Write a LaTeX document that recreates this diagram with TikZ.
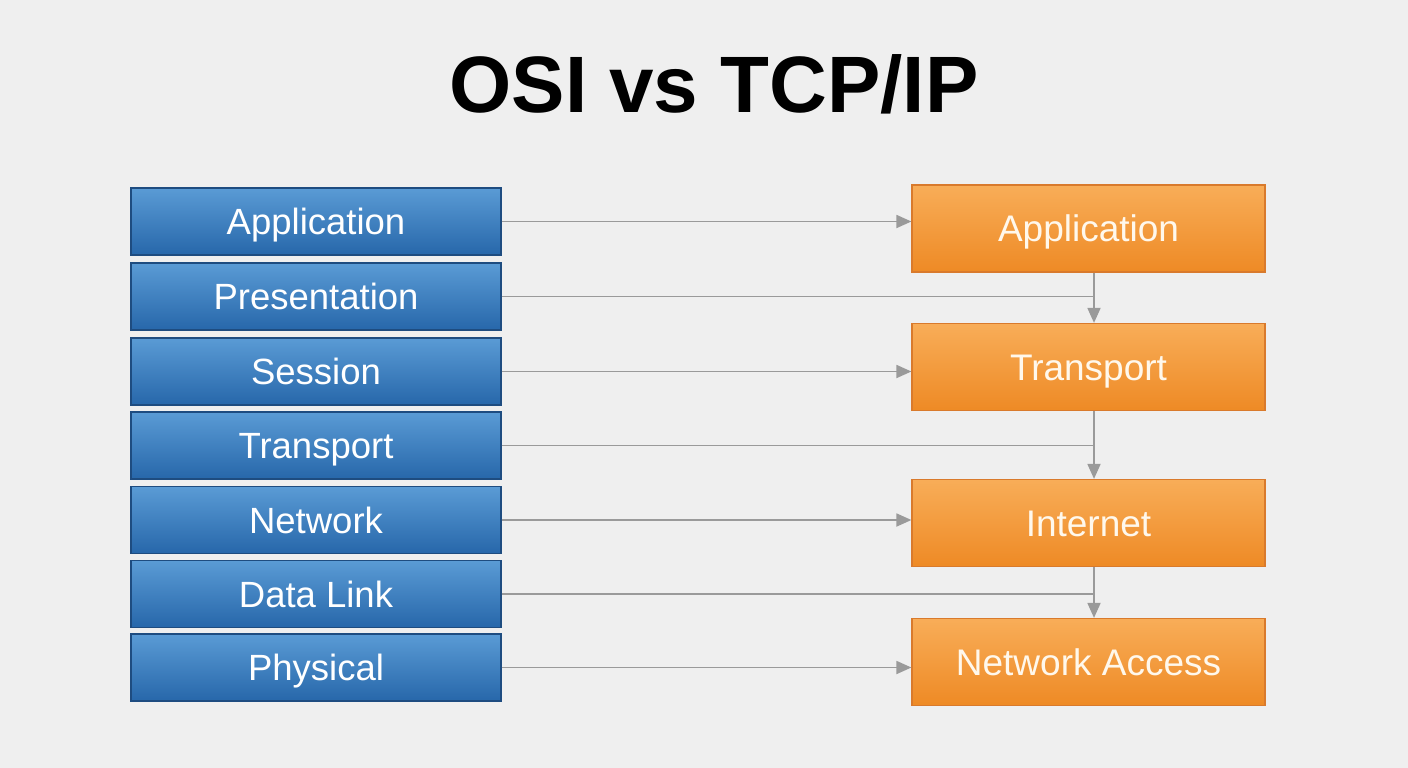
\documentclass[tikz,border=0pt]{standalone}
\usepackage{fontspec}
\setmainfont{Liberation Sans}
\usetikzlibrary{arrows.meta,calc}
\definecolor{bgc}{HTML}{EFEFEF}
\definecolor{bluetop}{HTML}{5A9BD5}
\definecolor{bluebot}{HTML}{2767AA}
\definecolor{blueedge}{HTML}{1E4C80}
\definecolor{orgtop}{HTML}{F8AD58}
\definecolor{orgbot}{HTML}{EE8A25}
\definecolor{orgedge}{HTML}{D97A2C}
\definecolor{arrowc}{HTML}{9A9A9A}
\definecolor{orgtext}{HTML}{FFF8EC}
\tikzset{
  osibox/.style={draw=blueedge, line width=1.2pt, top color=bluetop, bottom color=bluebot,
    minimum width=370pt, minimum height=67pt, inner sep=0pt, text=white,
    text height=26pt, text depth=0pt,
    font=\fontsize{36.5}{40}\selectfont},
  tcpbox/.style={draw=orgedge, line width=1.2pt, top color=orgtop, bottom color=orgbot,
    minimum width=353pt, minimum height=87pt, inner sep=0pt, text=orgtext,
    text height=26.5pt, text depth=0pt,
    font=\fontsize{37}{42}\selectfont},
  conn/.style={draw=arrowc, line width=1.8pt},
  arr/.style={conn, -{Triangle[length=15pt,width=13pt]}}
}
\begin{document}
\begin{tikzpicture}[x=1pt,y=-1pt]
\useasboundingbox[fill=bgc] (0,0) rectangle (1408,768);
\node[font=\bfseries\fontsize{80}{84}\selectfont, text=black, inner sep=0pt,
  text height=57pt, text depth=0pt] (title) at (714,84) {OSI vs TCP/IP};
% OSI
\node[osibox] (o1) at (316,221.5) {Application};
\node[osibox] (o2) at (316,296.5) {Presentation};
\node[osibox] (o3) at (316,371.5) {Session};
\node[osibox] (o4) at (316,445.5) {Transport};
\node[osibox] (o5) at (316,520) {Network};
\node[osibox] (o6) at (316,594) {Data Link};
\node[osibox] (o7) at (316,667.5) {Physical};
% TCP/IP
\node[tcpbox] (t1) at (1088.5,228.5) {Application};
\node[tcpbox] (t2) at (1088.5,367) {Transport};
\node[tcpbox] (t3) at (1088.5,523) {Internet};
\node[tcpbox] (t4) at (1088.5,662) {Network Access};
% vertical join points
\coordinate (v1) at ([xshift=5.5pt]t1.south);
\coordinate (v2) at ([xshift=5.5pt]t2.south);
\coordinate (v3) at ([xshift=5.5pt]t3.south);
% connectors
\draw[arr] (o1.east) -- (o1.east -| t1.west);
\draw[conn] (o2.east) -- (o2.east -| v1);
\draw[arr] (v1) -- (v1 |- t2.north);
\draw[arr] (o3.east) -- (o3.east -| t2.west);
\draw[conn] (o4.east) -- (o4.east -| v2);
\draw[arr] (v2) -- (v2 |- t3.north);
\draw[arr] (o5.east) -- (o5.east -| t3.west);
\draw[conn] (o6.east) -- (o6.east -| v3);
\draw[arr] (v3) -- (v3 |- t4.north);
\draw[arr] (o7.east) -- (o7.east -| t4.west);
\end{tikzpicture}
\end{document}
